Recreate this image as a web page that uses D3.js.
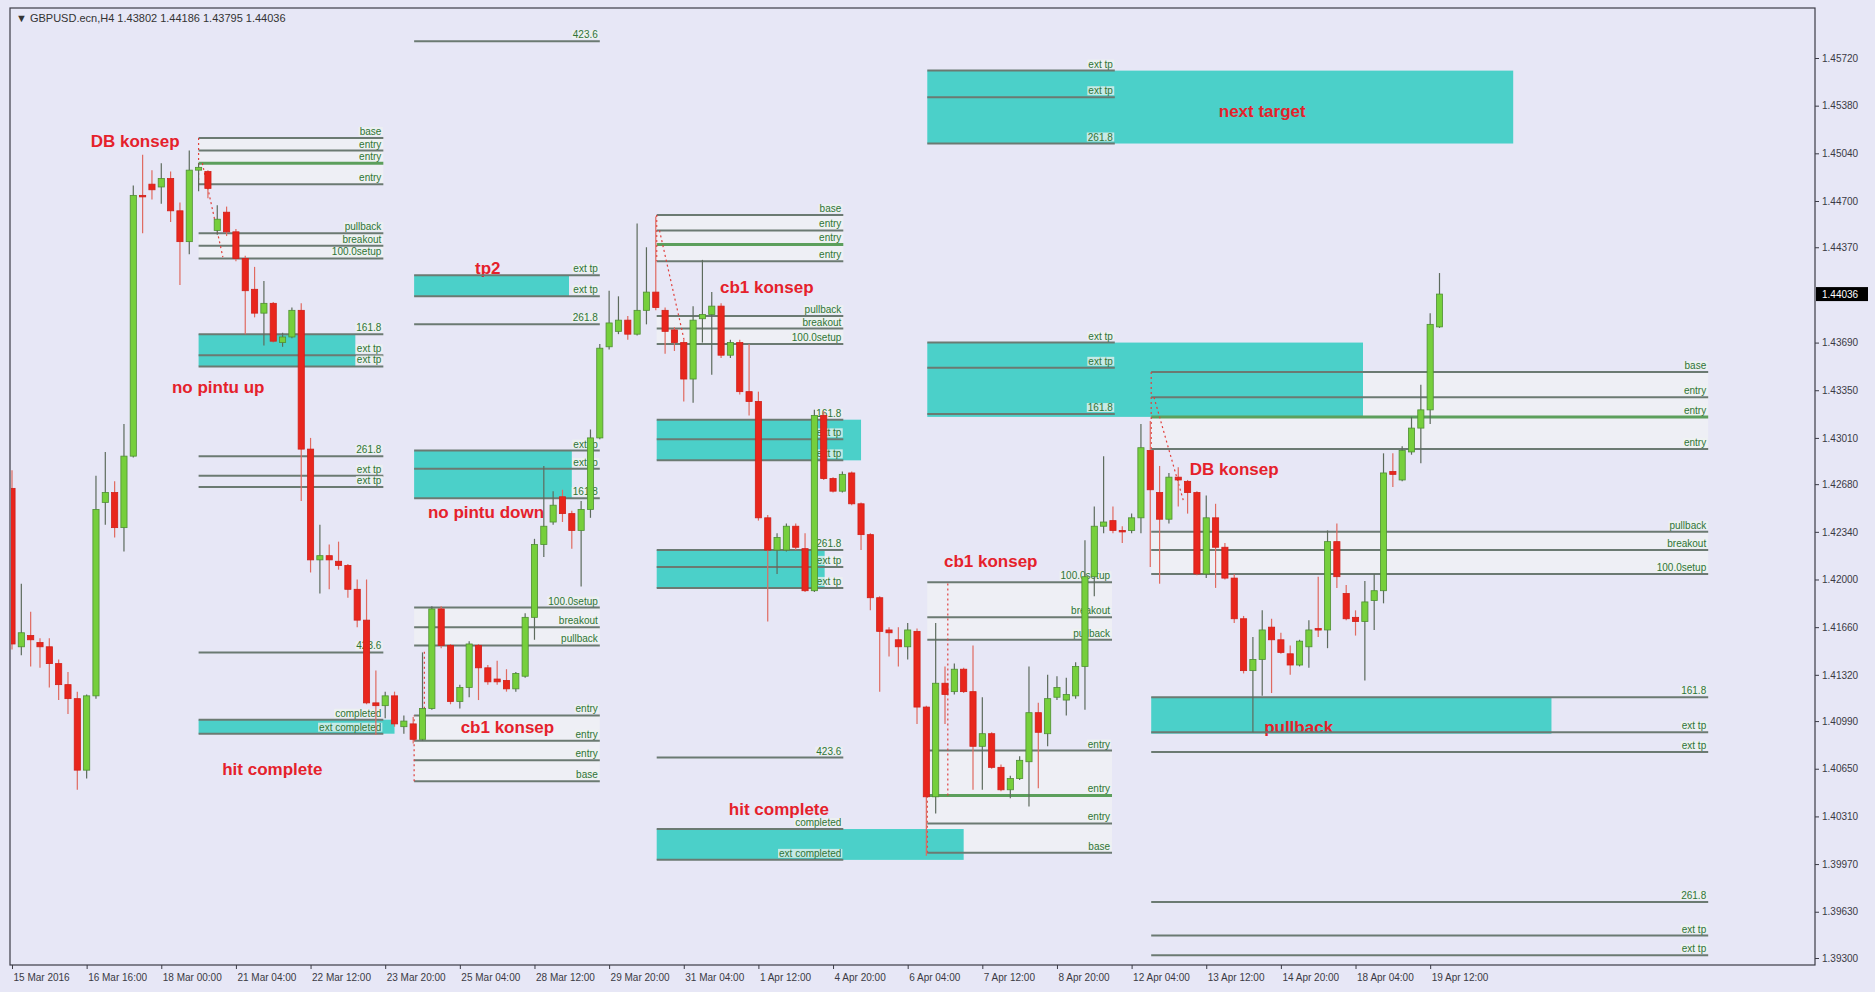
<!DOCTYPE html>
<html>
<head>
<meta charset="utf-8">
<script src="https://cdn.jsdelivr.net/npm/d3@7"></script>
<style>
    body { margin: 0; background: #e7e7f6; overflow: hidden; }
    text { font-family: "Liberation Sans", Arial, sans-serif; }
</style>
</head>
<body>
<div id="chart"></div>
<script>
"use strict";

// GBPUSD H4 candles (oldest first)
const opens = [1.4265,1.4152,1.4160,1.4155,1.4152,1.4140,1.4125,1.4115,1.4064,1.4117,
    1.4255,1.4262,1.4237,1.4288,1.4474,1.4482,1.4480,1.4486,1.4463,1.4441,
    1.4492,1.4491,1.4449,1.4462,1.4448,1.4429,1.4407,1.4390,1.4397,1.4369,
    1.4373,1.4392,1.4293,1.4214,1.4217,1.4213,1.4210,1.4193,1.4171,1.4112,
    1.4110,1.4117,1.4095,1.4097,1.4086,1.4108,1.4179,1.4153,1.4113,1.4123,
    1.4153,1.4137,1.4129,1.4128,1.4122,1.4131,1.4173,1.4225,1.4241,1.4259,
    1.4247,1.4235,1.4250,1.4301,1.4366,1.4377,1.4385,1.4375,1.4392,1.4405,
    1.4392,1.4378,1.4369,1.4343,1.4386,1.4389,1.4395,1.4360,1.4369,1.4334,
    1.4327,1.4244,1.4221,1.4221,1.4238,1.4222,1.4192,1.4317,1.4272,1.4263,
    1.4276,1.4254,1.4232,1.4187,1.4164,1.4157,1.4152,1.4163,1.4109,1.4045,
    1.4126,1.4120,1.4136,1.4120,1.4081,1.4090,1.4066,1.4050,1.4058,1.4070,
    1.4105,1.4090,1.4116,1.4114,1.4117,1.4138,1.4202,1.4238,1.4242,1.4235,
    1.4235,1.4244,1.4292,1.4262,1.4243,1.4273,1.4270,1.4262,1.4204,1.4244,
    1.4223,1.4201,1.4172,1.4135,1.4143,1.4166,1.4157,1.4147,1.4139,1.4152,
    1.4165,1.4164,1.4227,1.4190,1.4173,1.4170,1.4185,1.4192,1.4277,1.4271,
    1.4291,1.4308,1.4321,1.43802];
const highs = [1.4278,1.4197,1.4177,1.4158,1.4158,1.4143,1.4134,1.4120,1.4118,1.4274,
    1.4291,1.4270,1.4311,1.4481,1.4503,1.4492,1.4497,1.4491,1.4469,1.4506,
    1.4497,1.4492,1.4467,1.4466,1.4450,1.4431,1.4423,1.4413,1.4398,1.4376,
    1.4394,1.4397,1.4301,1.4239,1.4225,1.4227,1.4211,1.4200,1.4200,1.4135,
    1.4120,1.4120,1.4103,1.4102,1.4148,1.4181,1.4181,1.4154,1.4125,1.4156,
    1.4154,1.4139,1.4142,1.4136,1.4134,1.4176,1.4229,1.4281,1.4263,1.4264,
    1.4249,1.4256,1.4307,1.4368,1.4406,1.4402,1.4388,1.4454,1.4437,1.4459,
    1.4394,1.4380,1.4371,1.4395,1.4428,1.4405,1.4397,1.4371,1.4371,1.4368,
    1.4334,1.4246,1.4233,1.4240,1.4240,1.4233,1.4321,1.4320,1.4273,1.4277,
    1.4277,1.4255,1.4233,1.4188,1.4166,1.4166,1.4169,1.4165,1.4110,1.4169,
    1.4138,1.4140,1.4137,1.4153,1.4116,1.4091,1.4068,1.4060,1.4074,1.4138,
    1.4112,1.4132,1.4131,1.4130,1.4141,1.4228,1.4252,1.4288,1.4252,1.4238,
    1.4247,1.4311,1.4313,1.4281,1.4276,1.4280,1.4271,1.4263,1.4260,1.4254,
    1.4226,1.4204,1.4174,1.4159,1.4178,1.4172,1.4162,1.4153,1.4157,1.4171,
    1.4202,1.4235,1.4240,1.4196,1.4178,1.4199,1.4204,1.4290,1.4290,1.4295,
    1.4316,1.4339,1.4390,1.44186];
const lows = [1.4150,1.4146,1.4138,1.4137,1.4123,1.4114,1.4104,1.4050,1.4058,1.4115,
    1.4239,1.4230,1.4220,1.4287,1.4447,1.4471,1.4468,1.4455,1.4410,1.4432,
    1.4477,1.4472,1.4446,1.4445,1.4427,1.4375,1.4387,1.4367,1.4369,1.4366,
    1.4372,1.4256,1.4205,1.4190,1.4193,1.4207,1.4187,1.4166,1.4111,1.4089,
    1.4101,1.4095,1.4090,1.4083,1.4085,1.4107,1.4151,1.4111,1.4108,1.4116,
    1.4114,1.4125,1.4125,1.4120,1.4120,1.4130,1.4157,1.4216,1.4239,1.4241,
    1.4222,1.4195,1.4244,1.4300,1.4364,1.4375,1.4371,1.4374,1.4382,1.4392,
    1.4361,1.4363,1.4327,1.4326,1.4369,1.4346,1.4358,1.4358,1.4332,1.4317,
    1.4242,1.4170,1.4204,1.4220,1.4221,1.4191,1.4191,1.4271,1.4262,1.4262,
    1.4253,1.4221,1.4178,1.4120,1.4145,1.4138,1.4143,1.4097,1.4003,1.4033,
    1.4097,1.4118,1.4119,1.4050,1.4050,1.4065,1.4049,1.4044,1.4057,1.4038,
    1.4051,1.4081,1.4114,1.4103,1.4115,1.4107,1.4188,1.4233,1.4233,1.4226,
    1.4233,1.4233,1.4209,1.4197,1.4240,1.4252,1.4247,1.4203,1.4201,1.4194,
    1.4200,1.4169,1.4133,1.4091,1.4117,1.4119,1.4147,1.4132,1.4138,1.4137,
    1.4159,1.4151,1.4194,1.4171,1.4160,1.4128,1.4164,1.4183,1.4266,1.4270,
    1.4289,1.4283,1.4311,1.43795];
const closes = [1.4154,1.4162,1.4157,1.4152,1.4140,1.4125,1.4115,1.4064,1.4117,1.4250,
    1.4262,1.4237,1.4288,1.4474,1.4473,1.4478,1.4486,1.4463,1.4441,1.4492,
    1.4494,1.4479,1.4457,1.4448,1.4429,1.4406,1.4390,1.4397,1.4370,1.4373,
    1.4392,1.4293,1.4214,1.4217,1.4214,1.4210,1.4193,1.4171,1.4112,1.4110,
    1.4117,1.4097,1.4099,1.4086,1.4108,1.4179,1.4153,1.4113,1.4123,1.4154,
    1.4137,1.4127,1.4127,1.4122,1.4133,1.4173,1.4225,1.4238,1.4253,1.4247,
    1.4235,1.4250,1.4301,1.4365,1.4383,1.4385,1.4375,1.4392,1.4405,1.4394,
    1.4377,1.4369,1.4343,1.4385,1.4389,1.4395,1.4360,1.4369,1.4334,1.4327,
    1.4244,1.4221,1.4230,1.4238,1.4223,1.4192,1.4317,1.4272,1.4263,1.4275,
    1.4254,1.4232,1.4187,1.4163,1.4162,1.4152,1.4164,1.4109,1.4045,1.4126,
    1.4118,1.4136,1.4120,1.4081,1.4090,1.4066,1.4050,1.4058,1.4071,1.4105,
    1.4091,1.4115,1.4123,1.4118,1.4138,1.4202,1.4238,1.4241,1.4235,1.4234,
    1.4244,1.4294,1.4264,1.4243,1.4273,1.4271,1.4262,1.4204,1.4244,1.4223,
    1.4201,1.4172,1.4135,1.4143,1.4164,1.4157,1.4148,1.4139,1.4156,1.4164,
    1.4164,1.4227,1.4202,1.4172,1.4170,1.4184,1.4192,1.4276,1.4275,1.4292,
    1.4308,1.4321,1.4382,1.44036];

// time axis: one label every 8 bars
const dateBars = [0,8,16,24,32,40,48,56,64,72,80,88,96,104,112,120,128,136,144,152];
const dateLabels = ["15 Mar 2016","16 Mar 16:00","18 Mar 00:00","21 Mar 04:00","22 Mar 12:00",
    "23 Mar 20:00","25 Mar 04:00","28 Mar 12:00","29 Mar 20:00","31 Mar 04:00",
    "1 Apr 12:00","4 Apr 20:00","6 Apr 04:00","7 Apr 12:00","8 Apr 20:00",
    "12 Apr 04:00","13 Apr 12:00","14 Apr 20:00","18 Apr 04:00","19 Apr 12:00"];

const priceTicks = [1.45720,1.45380,1.45040,1.44700,1.44370,1.43690,1.43350,1.43010,1.42680,
    1.42340,1.42000,1.41660,1.41320,1.40990,1.40650,1.40310,1.39970,1.39630,1.39300];
const lastPrice = 1.44036;
const header = "\u25BC GBPUSD.ecn,H4  1.43802 1.44186 1.43795 1.44036";

// fibo levels: [from bar, to bar, price, label, kind]
const levels = [
    // DB konsep (left)
    [20, 39.8, 1.4515, "base"], [20, 39.8, 1.4506, "entry"], [20, 39.8, 1.4497, "entry", "key"],
    [20, 39.8, 1.4482, "entry"], [20, 39.8, 1.4447, "pullback"], [20, 39.8, 1.4438, "breakout"],
    [20, 39.8, 1.4429, "100.0setup"], [20, 39.8, 1.4375, "161.8"], [20, 39.8, 1.4360, "ext tp"],
    [20, 39.8, 1.4352, "ext tp"], [20, 39.8, 1.4288, "261.8"], [20, 39.8, 1.4274, "ext tp"],
    [20, 39.8, 1.4266, "ext tp"], [20, 39.8, 1.4148, "423.6"], [20, 39.8, 1.4100, "completed"],
    [20, 39.8, 1.4090, "ext completed"],
    // cb1 konsep (up)
    [43.1, 63, 1.4584, "423.6"], [43.1, 63, 1.4417, "ext tp"], [43.1, 63, 1.4402, "ext tp"],
    [43.1, 63, 1.4382, "261.8"], [43.1, 63, 1.4292, "ext tp"], [43.1, 63, 1.4279, "ext tp"],
    [43.1, 63, 1.4258, "161.8"], [43.1, 63, 1.4180, "100.0setup"], [43.1, 63, 1.4166, "breakout"],
    [43.1, 63, 1.4153, "pullback"], [43.1, 63, 1.4103, "entry"], [43.1, 63, 1.4085, "entry"],
    [43.1, 63, 1.4071, "entry"], [43.1, 63, 1.4056, "base"],
    // cb1 konsep (down)
    [69.1, 89.1, 1.4460, "base"], [69.1, 89.1, 1.4449, "entry"], [69.1, 89.1, 1.4439, "entry", "key"],
    [69.1, 89.1, 1.4427, "entry"], [69.1, 89.1, 1.4388, "pullback"], [69.1, 89.1, 1.4379, "breakout"],
    [69.1, 89.1, 1.4368, "100.0setup"], [69.1, 89.1, 1.4314, "161.8"], [69.1, 89.1, 1.4300, "ext tp"],
    [69.1, 89.1, 1.4285, "ext tp"], [69.1, 89.1, 1.4221, "261.8"], [69.1, 89.1, 1.4209, "ext tp"],
    [69.1, 89.1, 1.4194, "ext tp"], [69.1, 89.1, 1.4073, "423.6"], [69.1, 89.1, 1.4022, "completed"],
    [69.1, 89.1, 1.4000, "ext completed"],
    // cb1 konsep (up, right)
    [98.1, 117.9, 1.4198, "100.0setup"], [98.1, 117.9, 1.4173, "breakout"], [98.1, 117.9, 1.4157, "pullback"],
    [98.1, 117.9, 1.4078, "entry"], [98.1, 117.9, 1.4046, "entry", "key"], [98.1, 117.9, 1.4026, "entry"],
    [98.1, 117.9, 1.4005, "base"],
    [98.1, 118.2, 1.4563, "ext tp"], [98.1, 118.2, 1.4544, "ext tp"], [98.1, 118.2, 1.4511, "261.8"],
    [98.1, 118.2, 1.4369, "ext tp"], [98.1, 118.2, 1.4351, "ext tp"], [98.1, 118.2, 1.4318, "161.8"],
    // DB konsep (right)
    [122.1, 181.8, 1.4348, "base"], [122.1, 181.8, 1.4330, "entry"], [122.1, 181.8, 1.4316, "entry", "key"],
    [122.1, 181.8, 1.4293, "entry"], [122.1, 181.8, 1.4234, "pullback"], [122.1, 181.8, 1.4221, "breakout"],
    [122.1, 181.8, 1.4204, "100.0setup"], [122.1, 181.8, 1.4116, "161.8"], [122.1, 181.8, 1.4091, "ext tp"],
    [122.1, 181.8, 1.4077, "ext tp"], [122.1, 181.8, 1.3970, "261.8"], [122.1, 181.8, 1.3946, "ext tp"],
    [122.1, 181.8, 1.3932, "ext tp"]
];

// shaded zones: [from bar, to bar, top price, bottom price, kind]
const zones = [
    [20, 39.8, 1.4515, 1.4482, "band"], [20, 39.8, 1.4447, 1.4429, "band"],
    [43.1, 63, 1.4180, 1.4153, "band"], [43.1, 63, 1.4103, 1.4056, "band"],
    [69.1, 89.1, 1.4460, 1.4427, "band"], [69.1, 89.1, 1.4388, 1.4368, "band"],
    [98.1, 117.9, 1.4198, 1.4157, "band"], [98.1, 117.9, 1.4078, 1.4005, "band"],
    [122.1, 181.8, 1.4348, 1.4293, "band"], [122.1, 181.8, 1.4234, 1.4204, "band"],
    [20, 36.8, 1.4375, 1.4352, "tp"], [20, 41, 1.4100, 1.4090, "tp"],
    [43.1, 59.7, 1.4417, 1.4402, "tp"], [43.1, 60, 1.4292, 1.4258, "tp"],
    [69.1, 91, 1.4314, 1.4285, "tp"], [69.1, 87.1, 1.4221, 1.4194, "tp"], [69.1, 102, 1.4022, 1.4000, "tp"],
    [98.1, 160.9, 1.4563, 1.4511, "tp"], [98.1, 144.8, 1.4369, 1.4316, "tp"],
    [122.1, 165, 1.4116, 1.4090, "tp"]
];

// red notes: [bar, price, text]
const notes = [
    [13.2, 1.4513, "DB konsep"], [22.1, 1.4337, "no pintu up"], [27.9, 1.4065, "hit complete"],
    [51, 1.4422, "tp2"], [50.8, 1.4248, "no pintu down"], [53.1, 1.4095, "cb1 konsep"],
    [80.9, 1.4409, "cb1 konsep"], [82.2, 1.4036, "hit complete"], [104.9, 1.4213, "cb1 konsep"],
    [134, 1.4534, "next target"], [131, 1.4279, "DB konsep"], [137.9, 1.4095, "pullback"]
];

// dotted swing markers: [bar1, price1, bar2, price2]
const traces = [
    [20, 1.4515, 20, 1.4482], [20.4, 1.4497, 22.6, 1.4430],
    [43.1, 1.4056, 43.1, 1.4103], [44.2, 1.4090, 44.2, 1.4150],
    [69.1, 1.4460, 69.1, 1.4427], [69.4, 1.4449, 72.2, 1.4366],
    [98.1, 1.4005, 98.1, 1.4046], [100.3, 1.4046, 100.3, 1.4198],
    [122.1, 1.4348, 122.1, 1.4293], [122.4, 1.4330, 125.6, 1.4255]
];

const msm = { width: 1875, height: 992, left: 10, top: 8, right: 1815, bottom: 965 };

window.onload = function () {
    let svg = d3.select("#chart").append("svg")
        .attr("width", msm.width)
        .attr("height", msm.height);

    let x = d3.scaleLinear().domain([0, 193]).range([12, 1812.7]);
    let y = d3.scaleLinear().domain([1.39300, 1.45720]).range([958, 58]);

    // frame
    svg.append("rect")
        .attr("x", msm.left).attr("y", msm.top)
        .attr("width", msm.right - msm.left).attr("height", msm.bottom - msm.top)
        .attr("fill", "#e7e7f6").attr("stroke", "#3c3c46").attr("stroke-width", 1.2);

    svg.append("clipPath").attr("id", "plot")
        .append("rect")
        .attr("x", msm.left + 1).attr("y", msm.top + 1)
        .attr("width", msm.right - msm.left - 2).attr("height", msm.bottom - msm.top - 2);
    let plot = svg.append("g").attr("clip-path", "url(#plot)");

    // zones (pale bands first, cyan targets on top)
    plot.selectAll(".zone")
        .data(zones)
        .enter().append("rect")
        .attr("x", d => x(d[0]))
        .attr("width", d => x(d[1]) - x(d[0]))
        .attr("y", d => y(d[2]))
        .attr("height", d => y(d[3]) - y(d[2]))
        .attr("fill", d => d[4] == "tp" ? "#4bd0c9" : "#f4f6f4")
        .attr("opacity", d => d[4] == "tp" ? 1 : 0.55);

    // red notes under the level labels
    plot.selectAll(".note")
        .data(notes)
        .enter().append("text")
        .attr("x", d => x(d[0]))
        .attr("y", d => y(d[1]) + 6)
        .attr("text-anchor", "middle")
        .style("font-size", "17px")
        .style("font-weight", "bold")
        .attr("fill", "#e5212b")
        .text(d => d[2]);

    // level lines
    plot.selectAll(".level")
        .data(levels)
        .enter().append("line")
        .attr("x1", d => x(d[0]))
        .attr("x2", d => x(d[1]))
        .attr("y1", d => y(d[2]))
        .attr("y2", d => y(d[2]))
        .attr("stroke", d => d[4] == "key" ? "#5c9f5c" : "#6b7a72")
        .attr("stroke-width", d => d[4] == "key" ? 3 : 2);

    // level labels
    let lab = plot.selectAll(".lab")
        .data(levels)
        .enter().append("g")
        .attr("transform", d => "translate(" + (x(d[1]) - 2) + "," + (y(d[2]) - 3) + ")");
    lab.append("text")
        .attr("text-anchor", "end")
        .style("font-size", "10px")
        .attr("fill", "#2f7436")
        .text(d => d[3])
        .each(function () {
            let b = this.getBBox();
            d3.select(this.parentNode).insert("rect", "text")
                .attr("x", b.x - 1).attr("y", b.y + 1)
                .attr("width", b.width + 2).attr("height", b.height - 2)
                .attr("fill", "#eef3ef").attr("opacity", 0.75);
        });

    // dotted swing traces
    plot.selectAll(".trace")
        .data(traces)
        .enter().append("line")
        .attr("x1", d => x(d[0])).attr("y1", d => y(d[1]))
        .attr("x2", d => x(d[2])).attr("y2", d => y(d[3]))
        .attr("stroke", "#e0403c").attr("stroke-width", 1.2)
        .attr("stroke-dasharray", "2,3");

    // candles
    let bw = (x(1) - x(0)) * 0.66;
    let bars = plot.selectAll(".bar")
        .data(d3.range(opens.length))
        .enter().append("g");
    bars.append("line")
        .attr("x1", i => x(i)).attr("x2", i => x(i))
        .attr("y1", i => y(highs[i])).attr("y2", i => y(lows[i]))
        .attr("stroke", i => closes[i] >= opens[i] ? "#5d6b5d" : "#e06a60")
        .attr("stroke-width", 1.2);
    bars.append("rect")
        .attr("x", i => x(i) - bw / 2)
        .attr("width", bw)
        .attr("y", i => y(Math.max(opens[i], closes[i])))
        .attr("height", i => Math.max(1.5, Math.abs(y(opens[i]) - y(closes[i]))))
        .attr("fill", i => closes[i] >= opens[i] ? "#76cf3c" : "#e8261d")
        .attr("stroke", i => closes[i] >= opens[i] ? "#4f8f33" : "#d0201a")
        .attr("stroke-width", 0.8);

    // price axis
    let yAxis = d3.axisRight(y).tickValues(priceTicks).tickFormat(d3.format(".5f")).tickSize(4);
    let ya = svg.append("g")
        .attr("transform", "translate(" + msm.right + ",0)")
        .call(yAxis);
    ya.select(".domain").remove();
    ya.selectAll("line").attr("stroke", "#3c3c46");
    ya.selectAll("text").attr("fill", "#3a3a44").style("font-size", "10px")
        .style("font-family", "Liberation Sans, Arial, sans-serif").attr("x", 7);

    // last price tag
    svg.append("rect")
        .attr("x", msm.right + 1).attr("y", y(lastPrice) - 7)
        .attr("width", 52).attr("height", 14).attr("fill", "#000");
    svg.append("text")
        .attr("x", msm.right + 7).attr("y", y(lastPrice) + 4)
        .style("font-size", "10px").attr("fill", "#fff")
        .text(d3.format(".5f")(lastPrice));

    // time axis
    let xAxis = d3.axisBottom(x).tickValues(dateBars).tickFormat((d, i) => dateLabels[i]).tickSize(4);
    let xa = svg.append("g")
        .attr("transform", "translate(0," + msm.bottom + ")")
        .call(xAxis);
    xa.select(".domain").remove();
    xa.selectAll("line").attr("stroke", "#3c3c46");
    xa.selectAll("text").attr("fill", "#3a3a44").style("font-size", "10px")
        .style("font-family", "Liberation Sans, Arial, sans-serif")
        .attr("text-anchor", "start").attr("x", 1).attr("y", 9);

    // header
    svg.append("text")
        .attr("x", 16).attr("y", 22)
        .style("font-size", "11px").attr("fill", "#333")
        .text(header);
};
</script>
</body>
</html>
